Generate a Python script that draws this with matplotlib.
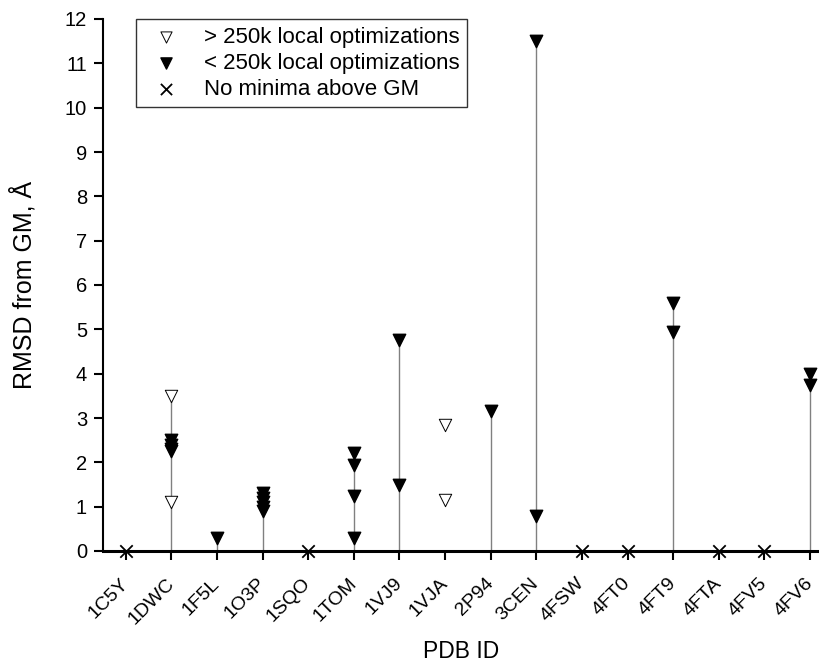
import numpy as np
import matplotlib.pyplot as plt

plt.rcParams['font.family'] = ['Liberation Sans', 'DejaVu Sans']

pdb_ids = ['1C5Y', '1DWC', '1F5L', '1O3P', '1SQO', '1TOM', '1VJ9', '1VJA',
           '2P94', '3CEN', '4FSW', '4FT0', '4FT9', '4FTA', '4FV5', '4FV6']

# > 250k local optimizations (open triangles)
open_ids = ['1DWC', '1DWC', '1VJA', '1VJA']
open_rmsd = [3.5, 1.1, 2.85, 1.15]

# < 250k local optimizations (filled triangles)
filled_ids = ['1DWC', '1DWC', '1DWC', '1DWC', '1F5L',
              '1O3P', '1O3P', '1O3P', '1O3P', '1O3P',
              '1TOM', '1TOM', '1TOM', '1TOM', '1VJ9', '1VJ9',
              '2P94', '3CEN', '3CEN', '4FT9', '4FT9', '4FV6', '4FV6']
filled_rmsd = [2.5, 2.4, 2.3, 2.25, 0.3,
               1.3, 1.2, 1.1, 1.0, 0.9,
               2.2, 1.95, 1.25, 0.3, 4.75, 1.5,
               3.15, 11.5, 0.8, 5.6, 4.95, 4.0, 3.75]

# no minima above GM
none_ids = ['1C5Y', '1SQO', '4FSW', '4FT0', '4FTA', '4FV5']

# drop lines
stem_ids = ['1DWC', '1F5L', '1O3P', '1TOM', '1VJ9', '2P94', '3CEN', '4FT9', '4FV6']
stem_top = [3.5, 0.3, 1.3, 2.2, 4.75, 3.15, 11.5, 5.6, 4.0]

pos = {p: i for i, p in enumerate(pdb_ids)}

fig = plt.figure(figsize=(8.2, 6.63), dpi=100)
ax = fig.add_axes([103 / 820, 1 - 551 / 663, 1 - 103 / 820, (551 - 19) / 663])

ax.vlines([pos[p] for p in stem_ids], 0, stem_top, colors='#808080', lw=1.0, zorder=1)

ax.scatter([pos[p] for p in open_ids], open_rmsd, marker='v', s=80,
           facecolors='white', edgecolors='black', linewidths=0.7, zorder=3,
           label='> 250k local optimizations')
ax.scatter([pos[p] for p in filled_ids], filled_rmsd, marker='v', s=80,
           color='black', zorder=3, label='< 250k local optimizations')
ax.scatter([pos[p] for p in none_ids], np.zeros(len(none_ids)), marker='x', s=80,
           color='black', linewidths=1.3, zorder=3, clip_on=False,
           label='No minima above GM')

ax.set_xlim(-0.5, 15.22)
ax.set_ylim(0, 12)
ax.set_yticks(range(0, 13))
ax.set_xticks(range(len(pdb_ids)))
ax.set_xticklabels(pdb_ids, rotation=45, ha='right', va='center',
                   rotation_mode='anchor', fontsize=14)
ax.tick_params(axis='y', labelsize=14.5, pad=5)
ax.tick_params(axis='x', pad=15)
ax.tick_params(direction='out', width=1.5, length=6.5)

for s in ['top', 'right']:
    ax.spines[s].set_visible(False)
ax.spines['left'].set_linewidth(1.5)
ax.spines['bottom'].set_linewidth(2.2)

ax.set_xlabel('PDB ID', fontsize=16.5, labelpad=9)
ax.set_ylabel('RMSD from GM, Å', fontsize=18, labelpad=20)

leg = ax.legend(loc='upper left', bbox_to_anchor=(136 / 820, 1 - 19 / 663),
                bbox_transform=fig.transFigure, borderaxespad=0, fontsize=16,
                frameon=True, fancybox=False, edgecolor='black', markerscale=0.9,
                handlelength=2.0, handletextpad=0.7, borderpad=0.35, labelspacing=0.22)
leg.get_frame().set_linewidth(1.0)

fig.savefig('out.png', dpi=100)
